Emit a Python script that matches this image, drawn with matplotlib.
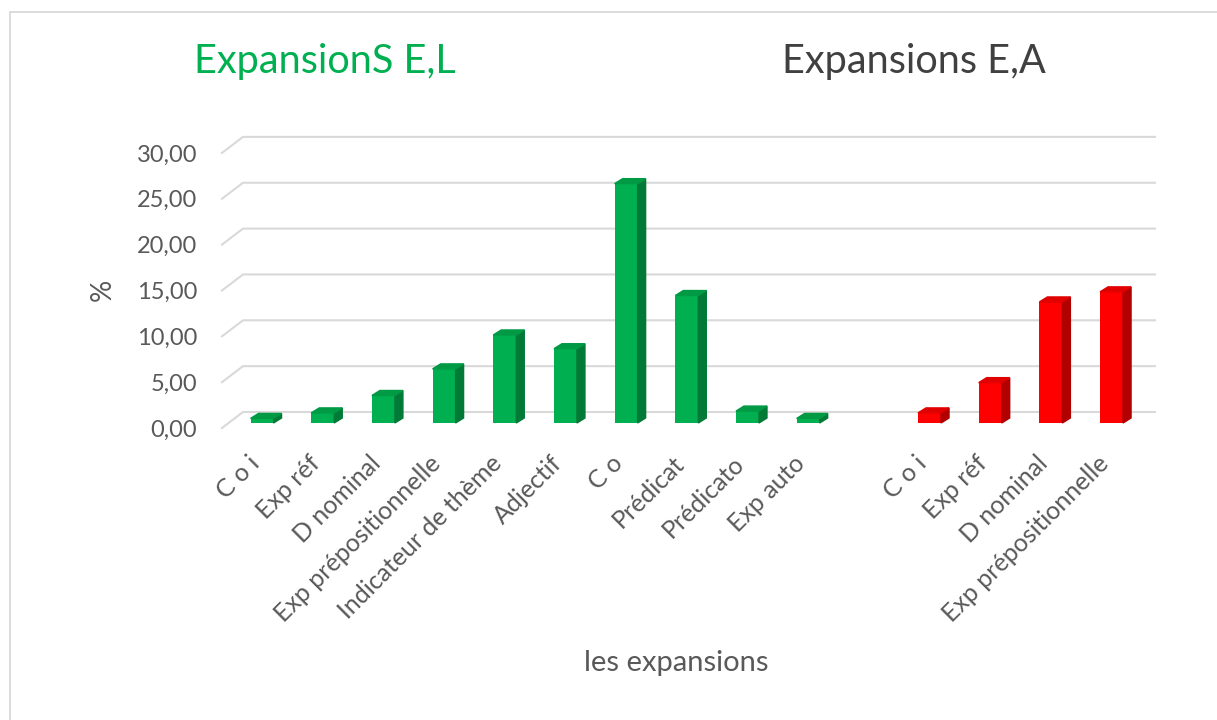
"""Excel-style 3D column chart: expansions E,L vs E,A"""
import matplotlib
matplotlib.use('Agg')
import matplotlib.pyplot as plt
import matplotlib.transforms as mtransforms
from matplotlib.patches import Polygon, Rectangle
from matplotlib.ticker import FuncFormatter

plt.rcParams['font.family'] = ['Lato', 'DejaVu Sans']

# data
labels_el = ['C o i', 'Exp réf', 'D nominal', 'Exp prépositionnelle',
             'Indicateur de thème', 'Adjectif', 'C o', 'Prédicat',
             'Prédicato', 'Exp auto']
values_el = [0.5, 1.1, 3.0, 5.9, 9.6, 8.1, 26.1, 13.9, 1.3, 0.5]

labels_ea = ['C o i', 'Exp réf', 'D nominal', 'Exp prépositionnelle']
values_ea = [1.1, 4.4, 13.2, 14.3]

title_el = 'ExpansionS E,L'
title_ea = 'Expansions E,A'

GREEN = ('#00B050', '#007A36', '#009944')
RED = ('#FF0000', '#B00000', '#E00000')
GRID = '#D9D9D9'
TXT = '#595959'

W, H = 1217, 720
fig = plt.figure(figsize=(W / 100, H / 100), dpi=100, facecolor='white')

# chart border
fig.add_artist(Rectangle((10 / W, -0.1), 1.2, (H - 12) / H + 0.1,
                         transform=fig.transFigure, fill=False,
                         edgecolor=GRID, lw=1.3))

left, right, bottom = 222, 1134, 428
ymax = 32
px_y = 9.17
ax = fig.add_axes([left / W, (H - bottom) / H, (right - left) / W,
                   ymax * px_y / H])
xmin, xmax = -0.66, 14.37
ax.set_xlim(xmin, xmax)
ax.set_ylim(0, ymax)
px_x = (right - left) / (xmax - xmin)
for s in ax.spines.values():
    s.set_visible(False)

# back wall gridlines with the little diagonal at the left
gdx = 21 / px_x
gdy = 16 / px_y
for v in range(0, 31, 5):
    ax.plot([xmin, xmin + gdx, xmax + gdx], [v, v + gdy, v + gdy],
            color=GRID, lw=1.5, clip_on=False, zorder=1)

# positions: green 0..9, gap, red 11..14
pos_el = list(range(len(values_el)))
pos_ea = [len(values_el) + 1 + i for i in range(len(values_ea))]

bw = 23 / px_x
sx = 8 / px_x
sy = 5 / px_y
base = 5 / px_y


def bars3d(positions, values, cols):
    front, side, top = cols
    ax.bar(positions, values, width=bw, bottom=base, color=front,
           zorder=3, clip_on=False)
    for p, v in zip(positions, values):
        r = p + bw / 2
        l = p - bw / 2
        t = base + v
        ax.add_patch(Polygon([(r, base), (r + sx, base + sy),
                              (r + sx, t + sy), (r, t)],
                             closed=True, color=side, zorder=3,
                             clip_on=False))
        ax.add_patch(Polygon([(l, t), (l + sx, t + sy),
                              (r + sx, t + sy), (r, t)],
                             closed=True, color=top, zorder=3,
                             clip_on=False))


bars3d(pos_el, values_el, GREEN)
bars3d(pos_ea, values_ea, RED)

ax.set_yticks(range(0, 31, 5))
ax.yaxis.set_major_formatter(FuncFormatter(lambda v, _: f'{v:.2f}'.replace('.', ',')))
ax.tick_params(axis='y', length=0, pad=18, labelsize=17, labelcolor=TXT)

ax.set_xticks(pos_el + pos_ea)
ax.set_xticklabels(labels_el + labels_ea, rotation=45, ha='right',
                   va='top', rotation_mode='anchor', fontsize=18, color=TXT)
ax.tick_params(axis='x', length=0, pad=17)
shift = mtransforms.ScaledTranslation(-15 / 100, 0, fig.dpi_scale_trans)
for lab in ax.get_xticklabels():
    lab.set_transform(lab.get_transform() + shift)

fig.text(103 / W, 1 - 290 / H, '%', fontsize=20, color=TXT, rotation=90,
         ha='center', va='center')
fig.text(676 / W, 1 - 663 / H, 'les expansions', fontsize=21, color=TXT,
         ha='center', va='center')

fig.text(325 / W, 1 - 62 / H, title_el, fontsize=28.5, color=GREEN[0],
         ha='center', va='center')
fig.text(914 / W, 1 - 62 / H, title_ea, fontsize=28.5, color='#404040',
         ha='center', va='center')

fig.savefig('out.png', dpi=100, facecolor='white')
